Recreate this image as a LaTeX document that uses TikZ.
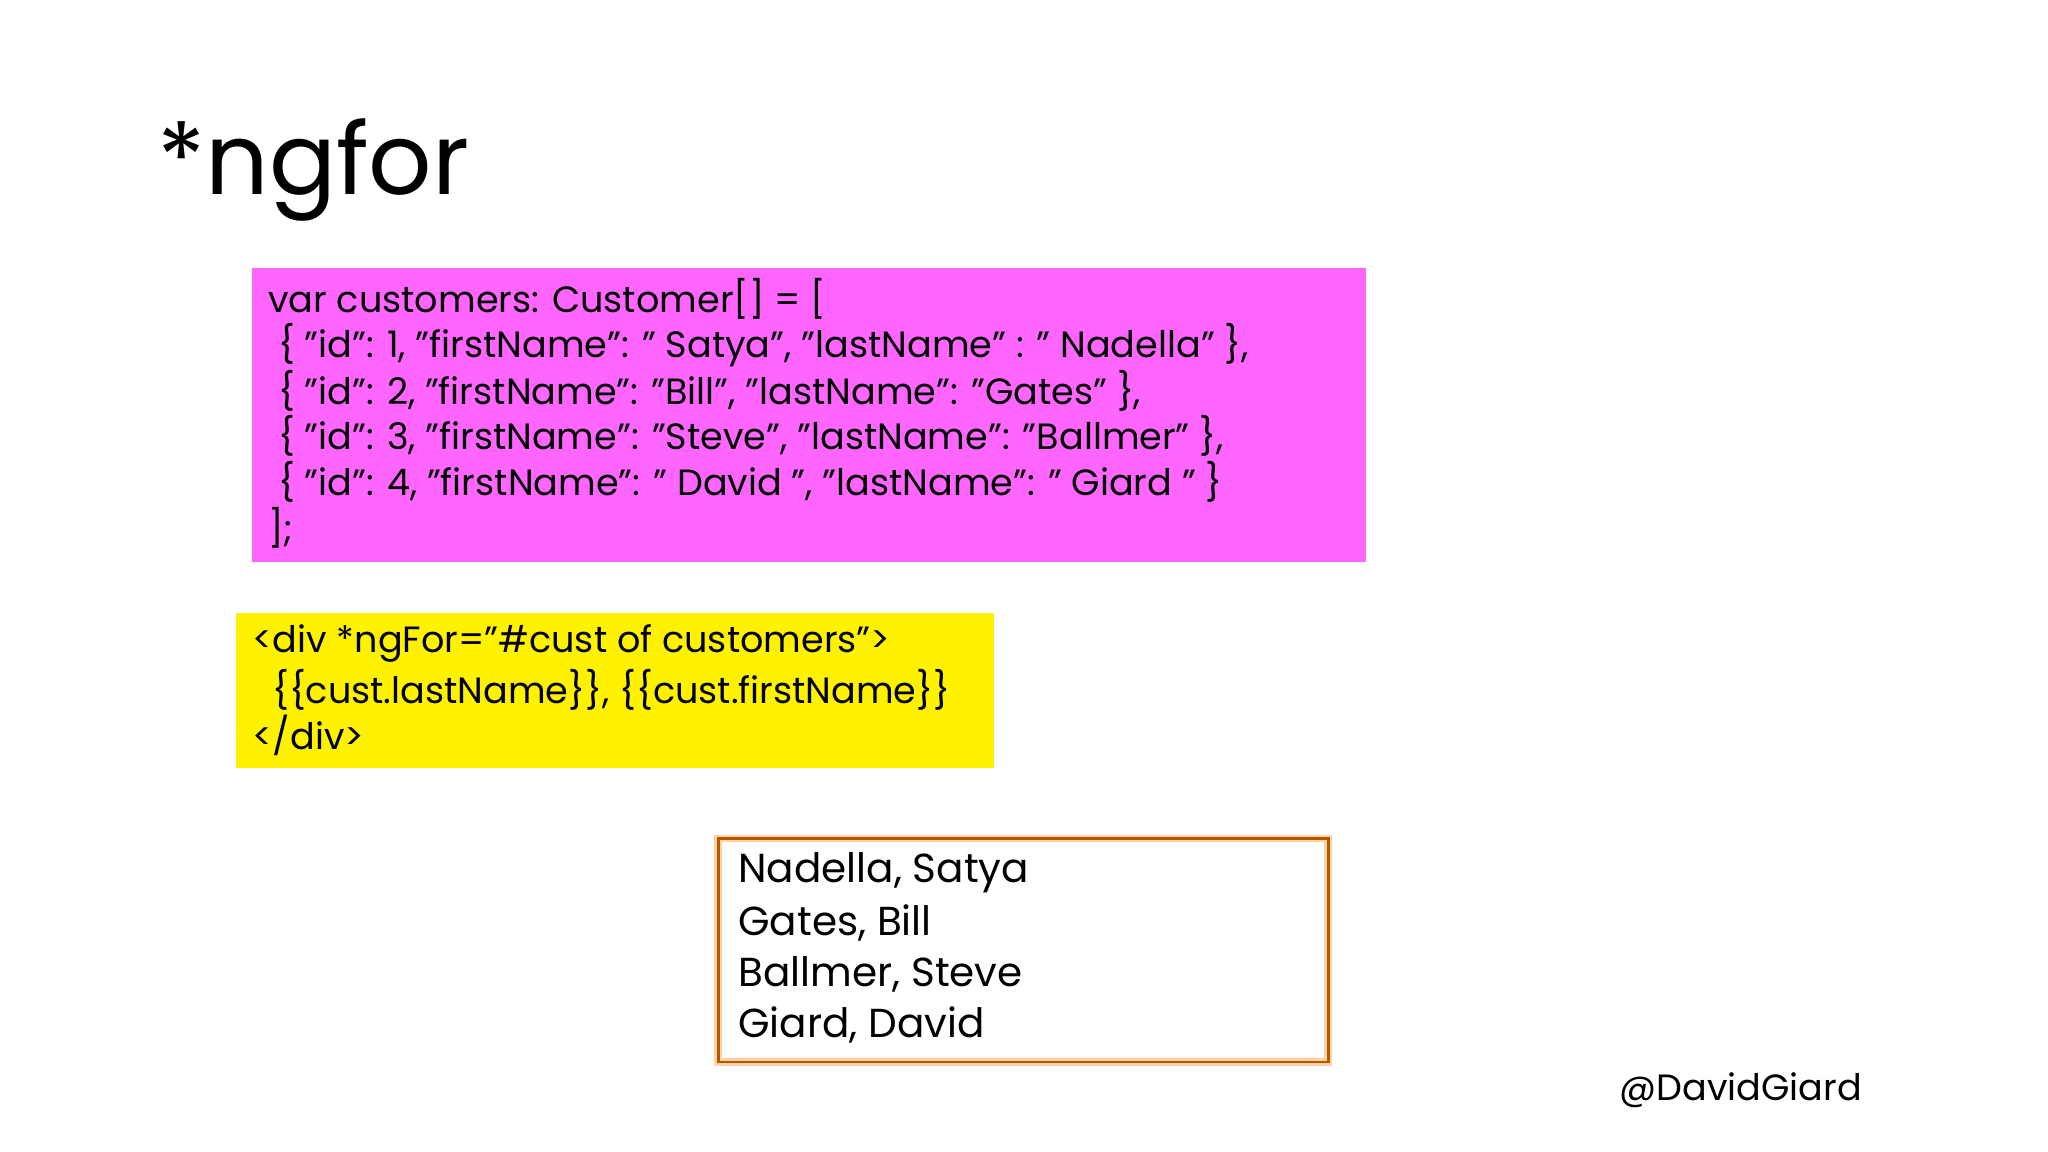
\documentclass[tikz,border=0pt]{standalone}
\usepackage{fontspec}
\setmainfont{Poppins}
\begin{document}
\begin{tikzpicture}[x=0.5pt,y=-0.5pt,
  code/.style={anchor=west,inner sep=0pt,font=\fontsize{14}{16}\selectfont},
  res/.style={anchor=west,inner sep=0pt,font=\fontsize{15.5}{18}\selectfont}]
\useasboundingbox (0,0) rectangle (1568,882);
\fill[white] (0,0) rectangle (1568,882);
\node[anchor=west,inner sep=0pt,font=\fontsize{38}{40}\selectfont] (title) at (120,130) {*ngfor};
\fill[magenta!60!white,fill={rgb,255:red,255;green,102;blue,255}] (193,205) rectangle (1046,430);
\node[code] (c1) at (205,229) {var customers: Customer[] = [};
\node[code] (c2) at (205,264) {\ \{ "id": 1, "firstName": " Satya", "lastName" : " Nadella" \},};
\node[code] (c3) at (205,299) {\ \{ "id": 2, "firstName": "Bill", "lastName": "Gates" \},};
\node[code] (c4) at (205,334) {\ \{ "id": 3, "firstName": "Steve", "lastName": "Ballmer" \},};
\node[code] (c5) at (205,369) {\ \{ "id": 4, "firstName": " David ", "lastName": " Giard " \}};
\node[code] (c6) at (205,404) {];};
\fill[yellow] (181,469) rectangle (761,588);
\node[code] (y1) at (193,493) {<div *ngFor="\#cust of customers">};
\node[code] (y2) at (193,528) {\ \ \{\{cust.lastName\}\}, \{\{cust.firstName\}\}};
\node[code] (y3) at (193,563) {</div>};
\draw[line width=3pt,orange!35] (550,642) rectangle (1017,813);
\draw[line width=1pt,orange!70!black] (550,642) rectangle (1017,813);
\node[res] (r1) at (565,668) {Nadella, Satya};
\node[res] (r2) at (565,707) {Gates, Bill};
\node[res] (r3) at (565,746) {Ballmer, Steve};
\node[res] (r4) at (565,785) {Giard, David};
\node[anchor=east,inner sep=0pt,font=\fontsize{14}{16}\selectfont] (tag) at (1426,835) {@DavidGiard};
\end{tikzpicture}
\end{document}
